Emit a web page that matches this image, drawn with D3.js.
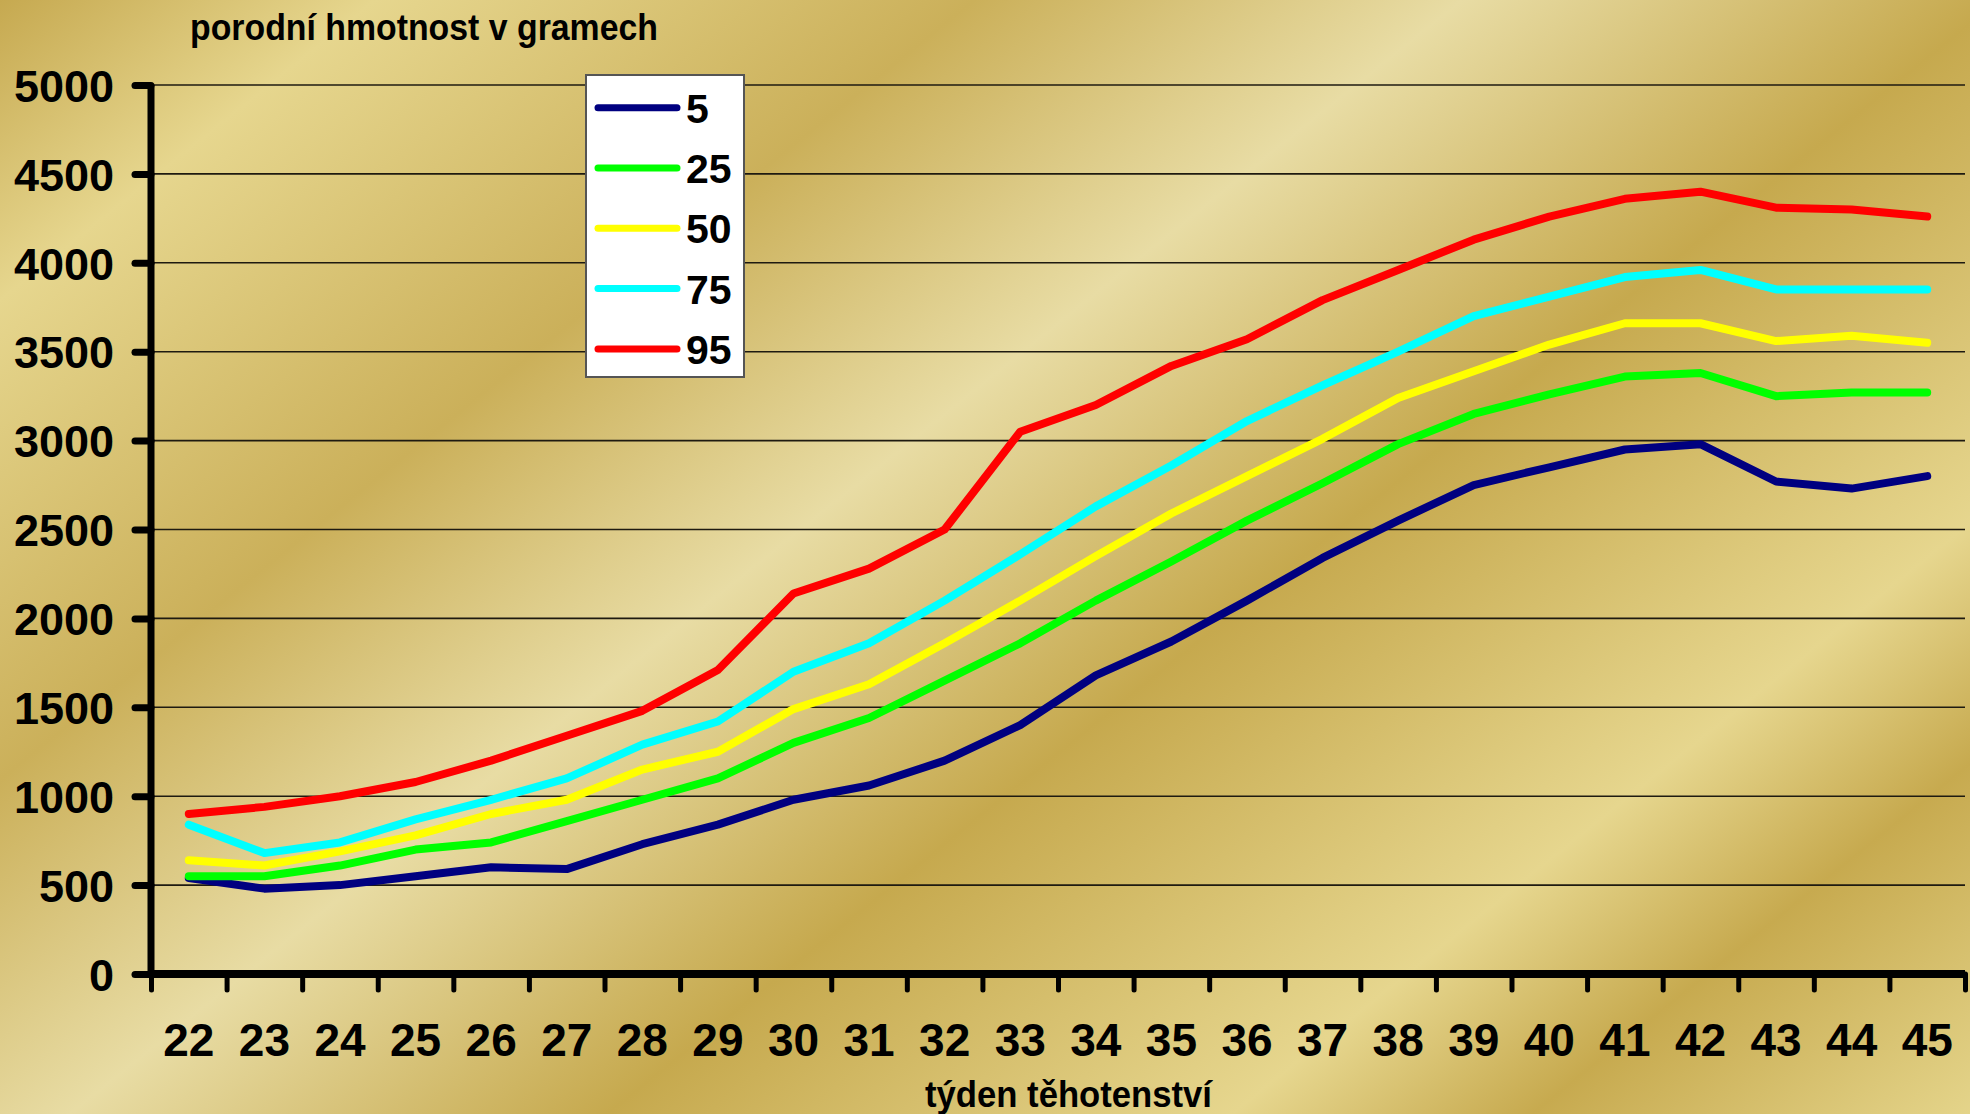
<!DOCTYPE html>
<html>
<head>
<meta charset="utf-8">
<script src="https://cdn.jsdelivr.net/npm/d3@7"></script>
<style>
  html, body { margin: 0; padding: 0; background: #d4bc68; }
  svg { display: block; }
  text { font-family: "Liberation Sans", Arial, sans-serif; font-weight: bold; fill: #000; }
</style>
</head>
<body>
<svg id="chart" width="1970" height="1114"></svg>
<script>
// ---- data ----
const weeks = ["22","23","24","25","26","27","28","29","30","31","32","33","34","35","36","37","38","39","40","41","42","43","44","45"];
const p5  = [540, 480, 500, 550, 600, 590, 730, 840, 980, 1060, 1200, 1400, 1680, 1870, 2100, 2340, 2550, 2750, 2850, 2950, 2980, 2770, 2730, 2800];
const p25 = [550, 550, 610, 700, 740, 860, 980, 1100, 1300, 1440, 1650, 1860, 2100, 2320, 2550, 2760, 2980, 3150, 3260, 3360, 3380, 3250, 3270, 3270];
const p50 = [640, 610, 690, 780, 900, 980, 1150, 1250, 1490, 1630, 1860, 2100, 2350, 2590, 2800, 3010, 3240, 3390, 3540, 3660, 3660, 3560, 3590, 3550];
const p75 = [840, 680, 740, 870, 980, 1100, 1290, 1420, 1700, 1860, 2100, 2360, 2630, 2860, 3110, 3310, 3500, 3700, 3810, 3920, 3960, 3850, 3850, 3850];
const p95 = [900, 940, 1000, 1080, 1200, 1340, 1480, 1710, 2140, 2280, 2500, 3050, 3200, 3420, 3570, 3790, 3960, 4130, 4260, 4360, 4400, 4310, 4300, 4260];
const seriesNames = ["5", "25", "50", "75", "95"];
const seriesColors = ["#000080", "#00FF00", "#FFFF00", "#00FFFF", "#FF0000"];
const yTicks = [0, 500, 1000, 1500, 2000, 2500, 3000, 3500, 4000, 4500, 5000];
const yTitle = "porodní hmotnost v gramech";
const xTitle = "týden těhotenství";

const seriesValues = [p5, p25, p50, p75, p95];

// ---- layout ----
const W = 1970, H = 1114;
const mLeft = 151, mRight = 1965, mTop = 85, mBottom = 974;

const svg = d3.select("#chart");

// background gold gradient (diagonal bands)
const defs = svg.append("defs");
const grad = defs.append("linearGradient")
  .attr("id", "gold")
  .attr("gradientUnits", "userSpaceOnUse")
  .attr("x1", 0).attr("y1", 0).attr("x2", 1312).attr("y2", 1640);
const stops = [
  [0, "#c6a950"], [300, "#e6d68e"], [780, "#cbb05a"], [1170, "#e8dca4"],
  [1600, "#c6a94e"], [2100, "#e6d68e"], [2340, "#c7aa4f"], [2690, "#e4d48a"]
];
stops.forEach(([p, c]) => grad.append("stop").attr("offset", p / 2690).attr("stop-color", c));
svg.append("rect").attr("width", W).attr("height", H).attr("fill", "url(#gold)");

// scales
const x = d3.scaleBand().domain(weeks).range([mLeft, mRight]).padding(0);
const xEdge = d3.scaleLinear().domain([0, weeks.length]).range([mLeft, mRight]);
const y = d3.scaleLinear().domain([0, 5000]).range([mBottom, mTop]);

// gridlines
svg.append("g").selectAll("line")
  .data(yTicks.filter(d => d > 0))
  .join("line")
  .attr("x1", mLeft).attr("x2", mRight)
  .attr("y1", d => y(d)).attr("y2", d => y(d))
  .attr("stroke", "#1e1a10").attr("stroke-width", 1.6);

// series lines
const line = d3.line()
  .x((d, i) => x(weeks[i]) + x.bandwidth() / 2)
  .y(d => y(d));
svg.append("g").selectAll("path")
  .data(seriesValues)
  .join("path")
  .attr("d", d => line(d))
  .attr("fill", "none")
  .attr("stroke", (d, i) => seriesColors[i])
  .attr("stroke-width", 8)
  .attr("stroke-linejoin", "round")
  .attr("stroke-linecap", "round");

// y axis
const yAxis = svg.append("g")
  .attr("transform", `translate(${mLeft},0)`)
  .call(d3.axisLeft(y).tickValues(yTicks).tickSize(16).tickPadding(21).tickFormat(d3.format("d")));
yAxis.select(".domain").attr("d", `M0,${mTop}V${mBottom}`).attr("stroke", "#000").attr("stroke-width", 7);
yAxis.selectAll(".tick line").attr("stroke", "#000").attr("stroke-width", 7).attr("stroke-linecap", "round");
yAxis.selectAll(".tick text")
  .attr("font-size", 45).attr("font-family", "Liberation Sans, Arial, sans-serif")
  .attr("font-weight", "bold").attr("fill", "#000").attr("dy", "0.36em");

// x axis ticks at band edges
const xTickAxis = svg.append("g")
  .attr("transform", `translate(0,${mBottom})`)
  .call(d3.axisBottom(xEdge).tickValues(d3.range(weeks.length + 1)).tickSize(16).tickFormat(""));
xTickAxis.select(".domain").attr("d", `M${mLeft},0H${mRight}`).attr("stroke", "#000").attr("stroke-width", 8);
xTickAxis.selectAll(".tick line").attr("stroke", "#000").attr("stroke-width", 5).attr("stroke-linecap", "round");

// x labels
const xLabAxis = svg.append("g")
  .attr("transform", `translate(0,${mBottom})`)
  .call(d3.axisBottom(x).tickSize(0).tickPadding(0));
xLabAxis.select(".domain").remove();
xLabAxis.selectAll(".tick text")
  .attr("font-size", 46).attr("font-family", "Liberation Sans, Arial, sans-serif")
  .attr("font-weight", "bold").attr("fill", "#000")
  .attr("dy", null).attr("y", 82);

// titles
svg.append("text")
  .attr("x", 190).attr("y", 40)
  .attr("font-size", 36)
  .attr("textLength", 468).attr("lengthAdjust", "spacingAndGlyphs")
  .text(yTitle);
svg.append("text")
  .attr("x", 925).attr("y", 1107)
  .attr("font-size", 36)
  .attr("textLength", 287).attr("lengthAdjust", "spacingAndGlyphs")
  .text(xTitle);

// legend
const lg = svg.append("g");
lg.append("rect")
  .attr("x", 586).attr("y", 75).attr("width", 158).attr("height", 302)
  .attr("fill", "#fff").attr("stroke", "#555").attr("stroke-width", 2);
const lgItems = lg.selectAll("g.item")
  .data(seriesNames)
  .join("g").attr("class", "item")
  .attr("transform", (d, i) => `translate(0,${107.7 + i * 60.3})`);
lgItems.append("line")
  .attr("x1", 598).attr("x2", 677).attr("y1", 0).attr("y2", 0)
  .attr("stroke", (d, i) => seriesColors[i])
  .attr("stroke-width", 7).attr("stroke-linecap", "round");
lgItems.append("text")
  .attr("x", 686).attr("y", 15)
  .attr("font-size", 41)
  .text(d => d);
</script>
</body>
</html>
